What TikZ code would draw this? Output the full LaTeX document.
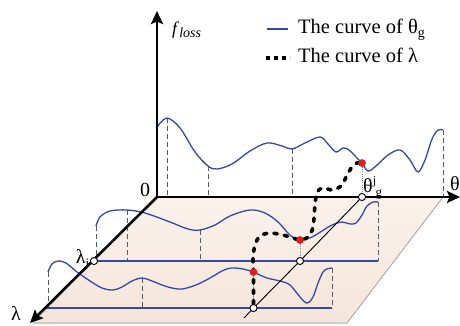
\documentclass[tikz,border=0pt]{standalone}
\usepackage{fontspec}
\setmainfont{Liberation Serif}
\usetikzlibrary{arrows.meta}
\definecolor{cblue}{RGB}{52,72,168}
\definecolor{cred}{RGB}{225,30,30}
\definecolor{cplane}{RGB}{248,236,228}
\definecolor{cplaneb}{RGB}{245,229,218}
\definecolor{cdash}{RGB}{90,90,90}
\begin{document}
\begin{tikzpicture}[x=1pt,y=-1pt,
  axisline/.style={line width=2.6pt,-{Stealth[length=13pt,width=12pt,inset=2.5pt]}},
  bcurve/.style={cblue,line width=1.3pt},
  baseln/.style={cblue,line width=1.3pt},
  vdash/.style={cdash,line width=1pt,dash pattern=on 5pt off 3pt},
  lamcurve/.style={black,line width=3.6pt,line cap=round,dash pattern=on 3.5pt off 7pt},
  dotln/.style={gray,line width=0.7pt,dash pattern=on 1pt off 1.2pt},
  reddot/.style={circle,fill=cred,inner sep=0pt,minimum size=7.5pt},
  whitedot/.style={circle,draw=black,fill=white,line width=0.8pt,inner sep=0pt,minimum size=7pt},
  lab/.style={font=\fontsize{20}{22}\selectfont,inner sep=0pt},
  legtext/.style={font=\fontsize{20.5}{23}\selectfont,inner sep=0pt}]
\useasboundingbox (0,0) rectangle (460,326);

% key coordinates
\coordinate (O) at (157,197);
\coordinate (Ytip) at (157,11);
\coordinate (Xtip) at (460,197);
\coordinate (Ltip) at (30,323);
\coordinate (PR) at (443,197);
\coordinate (PBR) at (347,323);
\coordinate (PBL) at (33,323);
\coordinate (Dend) at (244,318);
\coordinate (S1a) at (94,261);
\coordinate (S1b) at (378,261);
\coordinate (S2a) at (46,308);
\coordinate (S2b) at (332,308);

% plane
\fill[top color=cplane!70!white,bottom color=cplaneb] (O) -- (PR) -- (PBR) -- (PBL) -- cycle;
\draw[gray!70,line width=0.8pt] (PR) -- (PBR);
\draw[gray!40,line width=2pt] (PBR) -- (PBL);

% dashed verticals on the back wall
\draw[vdash] (167,118) -- (167,197);
\draw[vdash] (208,166) -- (208,197);
\draw[vdash] (292,149) -- (292,197);
\draw[vdash] (443,130) -- (443,197);
% slice 1
\draw[vdash] (96,226) -- (96,261);
\draw[vdash] (127,210) -- (127,261);
\draw[vdash] (200,230) -- (200,261);
\draw[vdash] (378,202) -- (378,261);
% slice 2
\draw[vdash] (48,272) -- (48,308);
\draw[vdash] (142,278) -- (142,308);
\draw[vdash] (332,268) -- (332,308);

% baselines
\draw[baseln] (S1a) -- (S1b);
\draw[baseln] (S2a) -- (S2b);

% back curve
\draw[bcurve] plot[smooth,tension=0.55] coordinates {(157,127) (167,118) (180,128) (195,152) (208,166) (217,169) (232,164) (250,151) (267,143) (282,146) (292,149) (305,143) (320,137) (328,144) (336,152) (343,148) (349,150) (357,158) (362,163) (368,171) (376,166) (388,155) (400,150) (410,160) (418,172) (425,160) (432,139) (438,130) (443,130)};
% slice 1 curve
\draw[bcurve] plot[smooth,tension=0.55] coordinates {(96,226) (100,217) (110,211) (127,210) (145,213) (170,222) (188,229) (200,230) (215,225) (230,216) (250,210) (265,213) (278,222) (290,235) (300,240) (312,237) (322,231) (332,225) (342,222) (350,224) (356,223) (362,215) (367,206) (373,202) (378,202)};
% slice 2 curve
\draw[bcurve] plot[smooth,tension=0.55] coordinates {(48,272) (52,264) (58,261) (66,263) (77,272) (90,281) (102,288) (113,290) (122,287) (132,281) (142,278) (152,281) (162,285) (172,288) (182,289) (196,285) (210,278) (222,271) (231,268) (243,269) (253,272) (267,278) (280,281) (290,285) (300,297) (307,303) (313,297) (318,283) (323,272) (327,269) (332,268)};

% points
\node[reddot] (r0) at (362,163) {};
\node[reddot] (r1) at (300,240) {};
\node[reddot] (r2) at (253.5,272) {};
\node[whitedot] (c0) at (362,197) {};
\node[whitedot] (c1) at (300,261) {};
\node[whitedot] (c2) at (253.5,308) {};
\node[whitedot] (li) at (94,261) {};

% thin diagonal and dotted projections
\draw[black,line width=0.9pt] (c0) -- (c1) -- (c2) -- (Dend);
\draw[dotln] (r0) -- (c0);
\draw[dotln] (r1) -- (c1);
\draw[dotln] (r2) -- (c2);

% curve of lambda
\draw[lamcurve] plot[smooth,tension=0.5] coordinates {(253.5,304) (253.5,272) (253,258) (255,245) (260,236) (270,233) (283,235) (293,238) (300,240) (308,237) (313,227) (315,205) (317,192) (323,188) (333,190) (342,185) (347,175) (352,167) (357,163) (362,163)};

% axes
\draw[axisline] (O) -- (Ytip);
\draw[axisline] (O) -- (Xtip);
\draw[axisline] (O) -- (Ltip);

% redraw dots on top
\node[reddot] at (r0) {};
\node[reddot] at (r1) {};
\node[reddot] at (r2) {};
\node[whitedot] at (c0) {};
\node[whitedot] at (c1) {};
\node[whitedot] at (c2) {};
\node[whitedot] at (li) {};

% labels
\node[lab] (zero) at (145,190) {0};
\node[lab] (thlab) at (455,184) {θ};
\node[lab] (lamlab) at (16,313) {λ};
\node[lab,anchor=base east] (lilab) at (89.5,263) {λ\raisebox{-4pt}{\fontsize{13}{14}\selectfont i}};
\node[lab,anchor=base west] (tjlab) at (363,192) {θ\raisebox{8pt}{\fontsize{12}{12}\selectfont j}\kern-0.5pt\raisebox{-4.5pt}{\fontsize{13}{13}\selectfont g}};
\node[lab,anchor=base west] (floss) at (172,35) {\fontsize{18}{20}\selectfont\textit{f}\raisebox{-3pt}{\fontsize{14}{15}\selectfont\textit{loss}}};

% legend
\coordinate (lg1a) at (267,29);
\coordinate (lg1b) at (288,29);
\coordinate (lg2a) at (266,58);
\coordinate (lg2b) at (290,58);
\draw[cblue,line width=1.3pt] (lg1a) -- (lg1b);
\draw[black,line width=3.2pt,dash pattern=on 4pt off 4pt] (lg2a) -- (lg2b);
\node[legtext,anchor=base west] (leg1) at (298,34) {The curve of θ\raisebox{-4pt}{\fontsize{14}{15}\selectfont g}};
\node[legtext,anchor=base west] (leg2) at (298,63) {The curve of λ};
\end{tikzpicture}
\end{document}
